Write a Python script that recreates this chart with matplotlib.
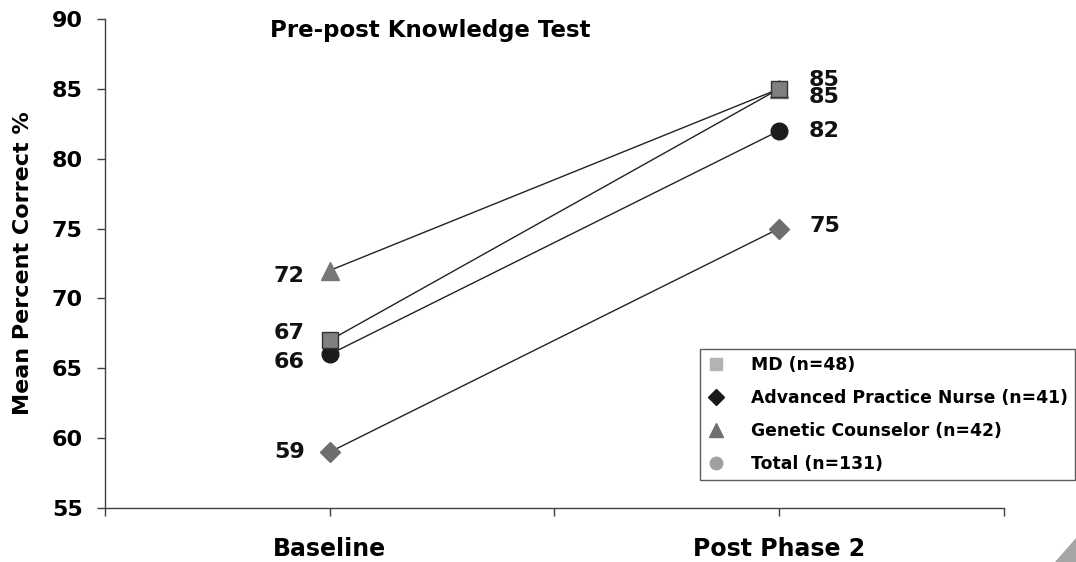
import matplotlib
matplotlib.use('Agg')
import matplotlib.pyplot as plt
from matplotlib.lines import Line2D
from matplotlib.patches import Polygon

plt.rcParams['font.family'] = ['DejaVu Sans']
plt.rcParams['font.weight'] = 'bold'

# dados
fases = ['Baseline', 'Post Phase 2']
grupos = ['MD (n=48)', 'Advanced Practice Nurse (n=41)',
          'Genetic Counselor (n=42)', 'Total (n=131)']
md = [67, 85]
apn = [59, 75]
gc = [72, 85]
total = [66, 82]

x = [0.5, 1.5]

fig = plt.figure(figsize=(10.76, 5.62), dpi=100)
ax = fig.add_axes([0.0976, 0.0961, 0.8352, 0.870])

# linhas + marcadores (ordem: triangulo fica atras do quadrado)
ax.plot(x, gc, '-', color='#222222', lw=1, marker='^', markersize=13,
        markerfacecolor='#777777', markeredgecolor='#777777', zorder=3)
ax.plot(x, apn, '-', color='#222222', lw=1, marker='D', markersize=10,
        markerfacecolor='#6e6e6e', markeredgecolor='#6e6e6e', zorder=3)
ax.plot(x, total, '-', color='#222222', lw=1, marker='o', markersize=12,
        markerfacecolor='#1c1c1c', markeredgecolor='#1c1c1c', zorder=4)
ax.plot(x, md, '-', color='#222222', lw=1, marker='s', markersize=12,
        markerfacecolor='#808080', markeredgecolor='#333333', zorder=5)

# rótulos de valor (offsets em pontos)
rotulos = [
    (md, (5, 6.5)), (gc, (-3.6, -5.8)), (total, (-5.8, 0)), (apn, (0, 2)),
]
for serie, (dy0, dy1) in rotulos:
    ax.annotate(f'{serie[0]}', (x[0], serie[0]), xytext=(-18, dy0),
                textcoords='offset points', ha='right', va='center',
                fontsize=16, fontweight='bold', color='#111111')
    ax.annotate(f'{serie[1]}', (x[1], serie[1]), xytext=(21.6, dy1),
                textcoords='offset points', ha='left', va='center',
                fontsize=16, fontweight='bold', color='#111111')

ax.set_xlim(0, 2)
ax.set_ylim(55, 90)
ax.set_yticks(range(55, 91, 5))
ax.set_xticks([0, 0.5, 1, 1.5, 2])
ax.set_xticklabels(['', fases[0], '', fases[1], ''])
ax.tick_params(axis='y', direction='out', length=6, width=1, color='#404040',
               labelsize=16, pad=10)
ax.tick_params(axis='x', direction='out', length=6, width=1, color='#404040',
               labelsize=17, pad=15)
for s in ['top', 'right']:
    ax.spines[s].set_visible(False)
for s in ['left', 'bottom']:
    ax.spines[s].set_color('#404040')
    ax.spines[s].set_linewidth(1)

ax.set_ylabel('Mean Percent Correct %', fontsize=16, fontweight='bold')
ax.yaxis.set_label_coords(-0.080, 0.5)

ax.text(0.184, 0.977, 'Pre-post Knowledge Test', transform=ax.transAxes,
        fontsize=16.5, fontweight='bold', va='center', ha='left')

# legenda (cores como no original)
handles = [
    Line2D([], [], ls='', marker='s', markersize=8, color='#b3b3b3'),
    Line2D([], [], ls='', marker='D', markersize=8, color='#1a1a1a'),
    Line2D([], [], ls='', marker='^', markersize=10, color='#707070'),
    Line2D([], [], ls='', marker='o', markersize=9, color='#a0a0a0'),
]
leg = fig.legend(handles, grupos, loc='lower left',
                 bbox_to_anchor=(0.6506, 0.146), bbox_transform=fig.transFigure,
                 prop={'size': 12.4, 'weight': 'bold'}, frameon=True,
                 fancybox=False, handlelength=1.0, handletextpad=1.55,
                 labelspacing=0.86, borderpad=0.42, borderaxespad=0)
leg.get_frame().set_edgecolor('#333333')
leg.get_frame().set_linewidth(1)

# canto dobrado no canto inferior direito
fig.patches.append(Polygon([(1055 / 1076, 0), (1, 0), (1, 24 / 562)],
                           closed=True, transform=fig.transFigure,
                           facecolor='#a6a6a6', edgecolor='none'))

plt.savefig('out.png', dpi=100)
